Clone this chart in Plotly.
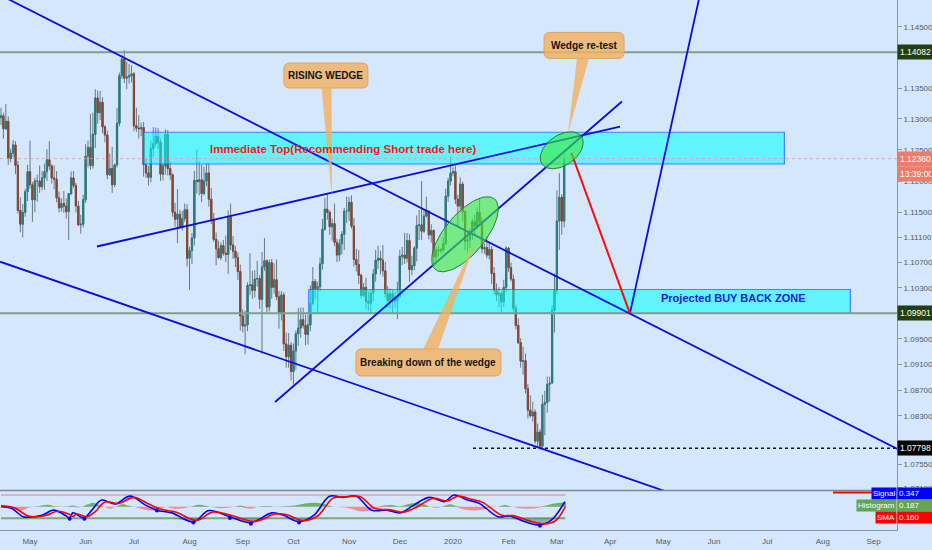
import numpy as np
import pandas as pd
import plotly.graph_objects as go

# ---------------- data (EURUSD daily) ----------------
START_DATE = "2019-04-15"
AXIS_END_DATE = "2020-09-30"

opens = [
    1.1302, 1.1305, 1.1284, 1.1296, 1.1236, 1.1245, 1.1258, 1.1225, 1.1153, 1.1131,
    1.1150, 1.1183, 1.1215, 1.1194, 1.1170, 1.1200, 1.1200, 1.1191, 1.1205, 1.1215,
    1.1234, 1.1224, 1.1205, 1.1203, 1.1173, 1.1157, 1.1164, 1.1160, 1.1151, 1.1180,
    1.1205, 1.1193, 1.1160, 1.1130, 1.1131, 1.1170, 1.1240, 1.1254, 1.1225, 1.1275,
    1.1334, 1.1310, 1.1327, 1.1287, 1.1274, 1.1210, 1.1220, 1.1194, 1.1226, 1.1293,
    1.1370, 1.1397, 1.1366, 1.1368, 1.1370, 1.1373, 1.1289, 1.1285, 1.1284, 1.1286,
    1.1226, 1.1213, 1.1206, 1.1252, 1.1260, 1.1272, 1.1262, 1.1211, 1.1224, 1.1275,
    1.1220, 1.1210, 1.1150, 1.1139, 1.1147, 1.1126, 1.1140, 1.1154, 1.1077, 1.1089,
    1.1109, 1.1201, 1.1199, 1.1202, 1.1180, 1.1200, 1.1213, 1.1171, 1.1139, 1.1107,
    1.1092, 1.1078, 1.1097, 1.1085, 1.1083, 1.1143, 1.1098, 1.1088, 1.1078, 1.1056,
    1.0986, 1.0970, 1.0972, 1.1034, 1.1035, 1.1026, 1.1044, 1.1045, 1.1012, 1.1063,
    1.1073, 1.1000, 1.1070, 1.1031, 1.1043, 1.1016, 1.0990, 1.1019, 1.0942, 1.0922,
    1.0940, 1.0899, 1.0931, 1.0958, 1.0967, 1.0980, 1.0971, 1.0957, 1.0972, 1.1006,
    1.1040, 1.1029, 1.1032, 1.1068, 1.1123, 1.1155, 1.1150, 1.1127, 1.1132, 1.1102,
    1.1082, 1.1100, 1.1115, 1.1152, 1.1152, 1.1166, 1.1128, 1.1075, 1.1067, 1.1050,
    1.1018, 1.1031, 1.1009, 1.1006, 1.1022, 1.1052, 1.1074, 1.1077, 1.1074, 1.1057,
    1.1021, 1.1010, 1.1021, 1.1012, 1.1010, 1.1017, 1.1080, 1.1082, 1.1077, 1.1105,
    1.1059, 1.1065, 1.1093, 1.1129, 1.1130, 1.1120, 1.1144, 1.1152, 1.1114, 1.1121,
    1.1079, 1.1090, 1.1089, 1.1090, 1.1100, 1.1176, 1.1200, 1.1213, 1.1215, 1.1171,
    1.1160, 1.1195, 1.1151, 1.1104, 1.1106, 1.1120, 1.1135, 1.1128, 1.1150, 1.1135,
    1.1092, 1.1094, 1.1082, 1.1091, 1.1053, 1.1026, 1.1019, 1.1021, 1.1008, 1.1031,
    1.1093, 1.1062, 1.1044, 1.0998, 1.0971, 1.0944, 1.0915, 1.0916, 1.0872, 1.0839,
    1.0830, 1.0836, 1.0791, 1.0805, 1.0783, 1.0848, 1.0851, 1.0879, 1.0881, 1.0995,
    1.1026, 1.1136, 1.1174, 1.1136,
]
highs = [
    1.1318, 1.1310, 1.1324, 1.1304, 1.1252, 1.1266, 1.1264, 1.1232, 1.1174, 1.1163,
    1.1187, 1.1226, 1.1265, 1.1198, 1.1205, 1.1210, 1.1225, 1.1216, 1.1228, 1.1251,
    1.1264, 1.1227, 1.1225, 1.1216, 1.1183, 1.1172, 1.1184, 1.1172, 1.1180, 1.1215,
    1.1216, 1.1197, 1.1168, 1.1146, 1.1178, 1.1259, 1.1265, 1.1308, 1.1310, 1.1348,
    1.1346, 1.1345, 1.1335, 1.1290, 1.1281, 1.1244, 1.1255, 1.1228, 1.1318, 1.1375,
    1.1404, 1.1412, 1.1393, 1.1389, 1.1387, 1.1376, 1.1318, 1.1306, 1.1294, 1.1295,
    1.1237, 1.1224, 1.1265, 1.1287, 1.1286, 1.1285, 1.1268, 1.1229, 1.1283, 1.1282,
    1.1232, 1.1212, 1.1165, 1.1187, 1.1154, 1.1152, 1.1164, 1.1163, 1.1095, 1.1117,
    1.1216, 1.1250, 1.1232, 1.1226, 1.1223, 1.1229, 1.1228, 1.1189, 1.1149, 1.1118,
    1.1105, 1.1102, 1.1106, 1.1113, 1.1153, 1.1164, 1.1112, 1.1096, 1.1086, 1.1067,
    1.0996, 1.0994, 1.1039, 1.1085, 1.1057, 1.1058, 1.1073, 1.1050, 1.1087, 1.1109,
    1.1075, 1.1075, 1.1076, 1.1069, 1.1075, 1.1025, 1.1025, 1.1023, 1.0960, 1.0959,
    1.0945, 1.0943, 1.0963, 1.0998, 1.0999, 1.0999, 1.0988, 1.0988, 1.1034, 1.1063,
    1.1044, 1.1040, 1.1078, 1.1139, 1.1173, 1.1179, 1.1153, 1.1140, 1.1164, 1.1108,
    1.1107, 1.1120, 1.1157, 1.1175, 1.1175, 1.1177, 1.1141, 1.1092, 1.1090, 1.1053,
    1.1038, 1.1046, 1.1025, 1.1027, 1.1060, 1.1090, 1.1097, 1.1089, 1.1098, 1.1071,
    1.1033, 1.1029, 1.1027, 1.1025, 1.1040, 1.1090, 1.1095, 1.1117, 1.1117, 1.1115,
    1.1081, 1.1096, 1.1145, 1.1154, 1.1200, 1.1155, 1.1175, 1.1153, 1.1131, 1.1123,
    1.1095, 1.1097, 1.1093, 1.1110, 1.1188, 1.1205, 1.1239, 1.1222, 1.1225, 1.1178,
    1.1206, 1.1199, 1.1153, 1.1118, 1.1124, 1.1140, 1.1146, 1.1158, 1.1173, 1.1142,
    1.1100, 1.1112, 1.1102, 1.1096, 1.1063, 1.1037, 1.1031, 1.1024, 1.1043, 1.1096,
    1.1095, 1.1070, 1.1051, 1.1003, 1.0982, 1.0951, 1.0938, 1.0927, 1.0879, 1.0862,
    1.0852, 1.0840, 1.0818, 1.0810, 1.0863, 1.0869, 1.0891, 1.0891, 1.1003, 1.1053,
    1.1185, 1.1213, 1.1179, 1.1245,
]
lows = [
    1.1290, 1.1268, 1.1282, 1.1226, 1.1230, 1.1238, 1.1211, 1.1148, 1.1118, 1.1110,
    1.1143, 1.1168, 1.1188, 1.1135, 1.1150, 1.1167, 1.1181, 1.1185, 1.1186, 1.1200,
    1.1218, 1.1196, 1.1187, 1.1166, 1.1150, 1.1151, 1.1149, 1.1140, 1.1106, 1.1177,
    1.1189, 1.1150, 1.1128, 1.1116, 1.1126, 1.1165, 1.1222, 1.1218, 1.1220, 1.1253,
    1.1292, 1.1298, 1.1277, 1.1262, 1.1203, 1.1208, 1.1181, 1.1190, 1.1222, 1.1288,
    1.1365, 1.1358, 1.1348, 1.1357, 1.1359, 1.1280, 1.1279, 1.1268, 1.1272, 1.1207,
    1.1205, 1.1193, 1.1198, 1.1238, 1.1255, 1.1252, 1.1200, 1.1201, 1.1210, 1.1209,
    1.1202, 1.1143, 1.1127, 1.1101, 1.1124, 1.1121, 1.1135, 1.1064, 1.1027, 1.1068,
    1.1097, 1.1180, 1.1177, 1.1166, 1.1177, 1.1192, 1.1159, 1.1131, 1.1103, 1.1066,
    1.1076, 1.1074, 1.1081, 1.1071, 1.1052, 1.1090, 1.1076, 1.1063, 1.1043, 1.0963,
    1.0960, 1.0926, 1.0962, 1.1019, 1.1013, 1.1015, 1.1032, 1.0997, 1.0927, 1.1057,
    1.0990, 1.0993, 1.1013, 1.1021, 1.1011, 1.0966, 1.0979, 1.0931, 1.0905, 1.0905,
    1.0885, 1.0879, 1.0902, 1.0939, 1.0952, 1.0966, 1.0940, 1.0941, 1.0962, 1.1003,
    1.1012, 1.0991, 1.1024, 1.1059, 1.1121, 1.1138, 1.1114, 1.1105, 1.1096, 1.1071,
    1.1072, 1.1083, 1.1090, 1.1133, 1.1136, 1.1124, 1.1064, 1.1056, 1.1036, 1.1013,
    1.1016, 1.0996, 1.0994, 1.0989, 1.1009, 1.1040, 1.1060, 1.1051, 1.1048, 1.1015,
    1.0999, 1.0998, 1.0992, 1.0999, 1.0981, 1.1014, 1.1066, 1.1068, 1.1070, 1.1040,
    1.1050, 1.1058, 1.1072, 1.1106, 1.1106, 1.1117, 1.1142, 1.1107, 1.1102, 1.1066,
    1.1067, 1.1080, 1.1084, 1.1087, 1.1098, 1.1167, 1.1193, 1.1208, 1.1163, 1.1128,
    1.1151, 1.1136, 1.1090, 1.1086, 1.1093, 1.1106, 1.1114, 1.1124, 1.1131, 1.1085,
    1.1084, 1.1077, 1.1075, 1.1036, 1.1019, 1.1009, 1.0999, 1.0992, 1.1000, 1.1024,
    1.1055, 1.1040, 1.0993, 1.0965, 1.0942, 1.0905, 1.0894, 1.0865, 1.0826, 1.0828,
    1.0821, 1.0787, 1.0781, 1.0778, 1.0778, 1.0800, 1.0835, 1.0852, 1.0880, 1.0960,
    1.1020, 1.1090, 1.1114, 1.1126,
]
closes = [
    1.1305, 1.1284, 1.1296, 1.1236, 1.1245, 1.1258, 1.1225, 1.1153, 1.1131, 1.1150,
    1.1183, 1.1215, 1.1194, 1.1170, 1.1200, 1.1200, 1.1191, 1.1205, 1.1215, 1.1234,
    1.1224, 1.1205, 1.1203, 1.1173, 1.1157, 1.1164, 1.1160, 1.1151, 1.1180, 1.1205,
    1.1193, 1.1160, 1.1130, 1.1131, 1.1170, 1.1240, 1.1254, 1.1225, 1.1275, 1.1334,
    1.1310, 1.1327, 1.1287, 1.1274, 1.1210, 1.1220, 1.1194, 1.1226, 1.1293, 1.1370,
    1.1397, 1.1366, 1.1368, 1.1370, 1.1373, 1.1289, 1.1285, 1.1284, 1.1286, 1.1226,
    1.1213, 1.1206, 1.1252, 1.1260, 1.1272, 1.1262, 1.1211, 1.1224, 1.1275, 1.1220,
    1.1210, 1.1150, 1.1139, 1.1147, 1.1126, 1.1140, 1.1154, 1.1077, 1.1089, 1.1109,
    1.1201, 1.1199, 1.1202, 1.1180, 1.1200, 1.1213, 1.1171, 1.1139, 1.1107, 1.1092,
    1.1078, 1.1097, 1.1085, 1.1083, 1.1143, 1.1098, 1.1088, 1.1078, 1.1056, 1.0986,
    1.0970, 1.0972, 1.1034, 1.1035, 1.1026, 1.1044, 1.1045, 1.1012, 1.1063, 1.1073,
    1.1000, 1.1070, 1.1031, 1.1043, 1.1016, 1.0990, 1.1019, 1.0942, 1.0922, 1.0940,
    1.0899, 1.0931, 1.0958, 1.0967, 1.0980, 1.0971, 1.0957, 1.0972, 1.1006, 1.1040,
    1.1029, 1.1032, 1.1068, 1.1123, 1.1155, 1.1150, 1.1127, 1.1132, 1.1102, 1.1082,
    1.1100, 1.1115, 1.1152, 1.1152, 1.1166, 1.1128, 1.1075, 1.1067, 1.1050, 1.1018,
    1.1031, 1.1009, 1.1006, 1.1022, 1.1052, 1.1074, 1.1077, 1.1074, 1.1057, 1.1021,
    1.1010, 1.1021, 1.1012, 1.1010, 1.1017, 1.1080, 1.1082, 1.1077, 1.1105, 1.1059,
    1.1065, 1.1093, 1.1129, 1.1130, 1.1120, 1.1144, 1.1152, 1.1114, 1.1121, 1.1079,
    1.1090, 1.1089, 1.1090, 1.1100, 1.1176, 1.1200, 1.1213, 1.1215, 1.1171, 1.1160,
    1.1195, 1.1151, 1.1104, 1.1106, 1.1120, 1.1135, 1.1128, 1.1150, 1.1135, 1.1092,
    1.1094, 1.1082, 1.1091, 1.1053, 1.1026, 1.1019, 1.1021, 1.1008, 1.1031, 1.1093,
    1.1062, 1.1044, 1.0998, 1.0971, 1.0944, 1.0915, 1.0916, 1.0872, 1.0839, 1.0830,
    1.0836, 1.0791, 1.0805, 1.0783, 1.0848, 1.0851, 1.0879, 1.0881, 1.0995, 1.1026,
    1.1136, 1.1174, 1.1136, 1.1236,
]

# right price axis (ticks hidden behind the level labels are left out)
price_ticks = [1.145, 1.135, 1.130, 1.125, 1.120, 1.115, 1.111, 1.107,
               1.103, 1.095, 1.091, 1.087, 1.083, 1.0755, 1.0719]

# key levels
resistance_level = 1.14082
support_level = 1.09901
last_price = 1.12360
swing_low = 1.07798
countdown = "13:39:00"

# oscillator pane (bar index, value)
fast_idx = [0, 4.3, 9.1, 11.5, 17, 21.8, 26.5, 28.4, 29.7, 34.3, 37.6, 41.6, 47.2, 53.4,
            59.8, 64.5, 70.7, 79.6, 86, 94.7, 103.4, 112.1, 116.9, 123.3, 129.5, 135.9,
            141.5, 147, 153.3, 159.7, 165.1, 170.8, 177.1, 183.5, 187.4, 193, 197.8,
            205.6, 210.4, 216.8, 223, 227.8, 233.3]
fast_val = [50, 46, 24, 23, 28, 41, 28, 21, 34, 21, 41, 67, 57, 77, 54, 41, 34, 11, 40,
            24, 9, 34, 28, 11, 28, 77, 74, 77, 41, 41, 34, 54, 74, 63, 80, 67, 59, 24,
            26, 11, 3, 16, 63]
slow_idx = [0, 5.5, 10.5, 13, 18.5, 23.3, 28, 30, 31.2, 35.8, 39.1, 43.1, 48.7, 54.9,
            61.3, 66, 72.2, 81.1, 87.5, 96.2, 104.9, 113.6, 118.4, 124.8, 131, 137.4,
            143, 148.5, 154.8, 161.2, 166.6, 172.3, 178.6, 185, 188.9, 194.5, 199.3,
            207.1, 211.9, 218.3, 224.5, 229.3, 233.5]
slow_val = [52, 47, 28, 24, 27, 38, 31, 25, 31, 24, 38, 62, 58, 74, 56, 44, 36, 15, 36,
            26, 12, 31, 29, 14, 26, 72, 75, 76, 45, 42, 36, 50, 71, 65, 77, 69, 61, 28,
            27, 14, 6, 13, 50]
dot_idx = [28.4, 34.5, 64.5, 79.6, 94.7, 103.4, 123.3, 223]
dot_val = [19, 19, 40, 9, 21, 6, 9, 1]
hist_idx = [0, 1.7, 2.9, 5.8, 8.7, 11.2, 13.2, 16.1, 19.4, 22.3, 25.2, 27.7, 29.8, 31.9,
            33.5, 36, 38, 40.1, 42.6, 45.1, 47.6, 50.1, 52.5, 55, 58.3, 62.5, 65.8, 68.3,
            70.7, 74.9, 78.2, 81.5, 84, 86.5, 90.6, 93.9, 96.4, 98.9, 101.4, 103.8, 106.3,
            109.6, 113.8, 117.5, 121.6, 125.8, 129.9, 134, 137.4, 142.3, 145.2, 148.5,
            152.7, 156, 158.5, 161.8, 165.1, 168.4, 171.7, 175, 177.5, 180, 182.5, 185.8,
            188.3, 190.7, 194.9, 199, 202.3, 205.6, 208.5, 211.4, 214.7, 218.9, 223,
            225.5, 228.8, 232.1, 233.8]
hist_val = [4, 2, 0, -8, -10, -3, 0, 2, 5, 1, -1, 1, 3, -2, 0, 6, 10, 6, 0, -5, 0, 7, 3,
            0, -6, -10, -6, 0, -4, -5, 0, 5, 3, 0, -4, -3, 0, 3, -4, -5, 0, 2, -1, 1, 3,
            8, 10, 6, 0, -2, -6, -12, -10, -2, 3, 4, 1, 6, 10, 6, 0, -3, 0, 6, 2, -6,
            -10, -8, -2, 0, 4, 0, -4, -5, -2, 3, 8, 11, 10]
osc_labels = ["Signal", "Histogram", "SMA"]
osc_label_values = ["0.347", "0.187", "0.160"]

# ---------------- layout geometry ----------------
PLOT_W, PLOT_H, MAIN_H = 897, 530, 490
XR0, XR1 = -0.414, 370.7
PTOP, PBOT = 1.14938, 1.07158
PX_PER_BAR = PLOT_W / (XR1 - XR0)
PX_PER_LN = MAIN_H / (np.log(PTOP) - np.log(PBOT))

BG = "#d4e7fc"
AXIS_C = "#8c97a3"
FONT = "Liberation Sans, Arial, sans-serif"
BLUE = "#0c0ce6"

n = len(closes)
bar_idx = np.arange(n)

axis_days = pd.bdate_range(START_DATE, AXIS_END_DATE)
month_ticks, month_labels = [], []
prev = axis_days[0].month
for i, d in enumerate(axis_days):
    if d.month != prev:
        month_ticks.append(i)
        month_labels.append("2020" if d.month == 1 else d.strftime("%b"))
    prev = d.month


def shift(idx, price, dx, dy):
    """offset a data anchor by screen pixels (dy positive = down)"""
    dx = np.asarray(dx, float)
    dy = np.asarray(dy, float)
    return idx + dx / PX_PER_BAR, price * np.exp(-dy / PX_PER_LN)


def rounded_rect(cx, cy, w, h, r=4, k=6):
    xs, ys = [], []
    corners = [(cx + w / 2 - r, cy - h / 2 + r, -90), (cx + w / 2 - r, cy + h / 2 - r, 0),
               (cx - w / 2 + r, cy + h / 2 - r, 90), (cx - w / 2 + r, cy - h / 2 + r, 180)]
    for ccx, ccy, a0 in corners:
        for a in np.linspace(a0, a0 + 90, k):
            xs.append(ccx + r * np.cos(np.radians(a)))
            ys.append(ccy + r * np.sin(np.radians(a)))
    xs.append(xs[0]); ys.append(ys[0])
    return np.array(xs), np.array(ys)


fig = go.Figure()

# candles: grey wicks + coloured bodies
fig.add_trace(go.Candlestick(
    x=bar_idx, open=opens, high=highs, low=lows, close=closes,
    increasing=dict(line=dict(color="rgb(104,120,132)", width=1), fillcolor="#4f8f92"),
    decreasing=dict(line=dict(color="rgb(104,120,132)", width=1), fillcolor="#86604f"),
    whiskerwidth=0, hoverinfo="skip", xaxis="x", yaxis="y"))
body_top = np.maximum(opens, closes)
body_bot = np.minimum(opens, closes)
fig.add_trace(go.Candlestick(
    x=bar_idx, open=opens, high=body_top, low=body_bot, close=closes,
    increasing=dict(line=dict(color="#2a7b7c", width=1), fillcolor="#2a7b7c"),
    decreasing=dict(line=dict(color="#8a4631", width=1), fillcolor="#8a4631"),
    whiskerwidth=0, hoverinfo="skip", xaxis="x", yaxis="y"))

# zones
def zone(x0, x1, p0, p1):
    fig.add_trace(go.Scatter(x=[x0, x1, x1, x0, x0], y=[p0, p0, p1, p1, p0], mode="lines",
                             fill="toself", fillcolor="rgba(0,255,255,0.55)",
                             line=dict(color="rgba(50,90,255,0.75)", width=1.2),
                             hoverinfo="skip", xaxis="x", yaxis="y"))

zone(58.9, 324.1, 1.12273, 1.12784)
zone(127.3, 351.4, support_level, 1.10276)

# horizontal levels
def hline(p, x0, x1, color, width, dash="solid"):
    fig.add_trace(go.Scatter(x=[x0, x1], y=[p, p], mode="lines",
                             line=dict(color=color, width=width, dash=dash),
                             hoverinfo="skip", xaxis="x", yaxis="y"))

hline(resistance_level, XR0, XR1, "rgb(128,158,140)", 2)
hline(support_level, XR0, XR1, "rgb(128,158,140)", 2)
hline(last_price, XR0, XR1, "rgba(232,150,150,0.75)", 1, "dot")
hline(swing_low, 195.3, XR1, "#111111", 1.5, "dot")

# trend lines (bar index, price)
def seg(x0, p0, x1, p1, color=BLUE, width=1.8):
    fig.add_trace(go.Scatter(x=[x0, x1], y=[p0, p1], mode="lines",
                             line=dict(color=color, width=width),
                             hoverinfo="skip", xaxis="x", yaxis="y"))

seg(-1, 1.15033, 371, 1.07787)
seg(-0.4, 1.10715, 280, 1.07073)
seg(39.7, 1.10956, 256.1, 1.12874)
seg(113.4, 1.08515, 256.9, 1.13281)
seg(260.2, 1.0990, 290, 1.15177)
seg(236.0, 1.1245, 260.2, 1.0990, color="#ff0a0a", width=2)

# ellipses
def ellipse(cidx, cprice, a, b, ang):
    t = np.linspace(0, 2 * np.pi, 80)
    th = np.radians(ang)
    dx = a * np.cos(t) * np.cos(th) - b * np.sin(t) * np.sin(th)
    dy = -(a * np.cos(t) * np.sin(th) + b * np.sin(t) * np.cos(th))
    ex, ey = shift(cidx, cprice, dx, dy)
    fig.add_trace(go.Scatter(x=ex, y=ey, mode="lines", fill="toself",
                             fillcolor="rgba(60,235,60,0.62)",
                             line=dict(color="#2c7a2c", width=1),
                             hoverinfo="skip", xaxis="x", yaxis="y"))

ellipse(191.97, 1.11151, 46, 20, 50)
ellipse(231.98, 1.12494, 24, 15, 35)

# callouts (tip anchored in data, box offset in pixels)
CALLOUT_FILL = "rgba(243,176,92,0.80)"

def callout(tidx, tprice, text, bx, by, bw, bh, base):
    rx, ry = rounded_rect(bx, by, bw, bh, r=5)
    px, py = shift(tidx, tprice, rx, ry)
    fig.add_trace(go.Scatter(x=px, y=py, mode="lines", fill="toself", fillcolor=CALLOUT_FILL,
                             line=dict(color="rgba(225,160,80,0.9)", width=1),
                             hoverinfo="skip", xaxis="x", yaxis="y"))
    (bx0, by0), (bx1, by1) = base
    tx, ty = shift(tidx, tprice, [bx0, bx1, 0, bx0], [by0, by1, 0, by0])
    fig.add_trace(go.Scatter(x=tx, y=ty, mode="lines", fill="toself", fillcolor=CALLOUT_FILL,
                             line=dict(width=0), hoverinfo="skip", xaxis="x", yaxis="y"))
    fig.add_annotation(x=tidx, y=np.log10(tprice), xref="x", yref="y", text=f"<b>{text}</b>",
                       showarrow=False, xshift=bx, yshift=-by,
                       font=dict(family=FONT, size=10, color="#161616"))

callout(136.9, 1.11744, "RISING WEDGE", -6, -121.5, 84, 25, ((-10.3, -109.5), (-0.3, -109.5)))
callout(234.6, 1.1277, "Wedge re-test", 16, -87.7, 80, 26, ((9, -75), (21, -75)))
callout(196.5, 1.1106, "Breaking down of the wedge", -47.5, 122.5, 145, 27,
        ((-53, 109.5), (-38, 109.5)))

# zone texts
fig.add_annotation(x=141.5, y=np.log10(1.12514), xref="x", yref="y",
                   text="<b>Immediate Top(Recommending Short trade here)</b>", showarrow=False,
                   font=dict(family=FONT, size=11.5, color="#ff1414"))
fig.add_annotation(x=303.1, y=np.log10(1.10142), xref="x", yref="y",
                   text="<b>Projected BUY BACK ZONE</b>", showarrow=False,
                   font=dict(family=FONT, size=11, color="#1c1cdc"))

# ---------------- oscillator pane ----------------
osc_end = n - 0.5
fig.add_trace(go.Scatter(x=[0, osc_end], y=[80, 80], mode="lines",
                         line=dict(color="rgba(236,112,112,0.9)", width=1),
                         hoverinfo="skip", xaxis="x", yaxis="y2"))
fig.add_trace(go.Scatter(x=[0, osc_end], y=[20, 20], mode="lines",
                         line=dict(color="rgba(118,165,120,0.95)", width=2),
                         hoverinfo="skip", xaxis="x", yaxis="y2"))
# oversold fill
fast_arr = np.array(fast_val, float)
fig.add_trace(go.Scatter(x=fast_idx, y=np.full(len(fast_idx), 20.0), mode="lines",
                         line=dict(width=0), hoverinfo="skip", xaxis="x", yaxis="y2"))
fig.add_trace(go.Scatter(x=fast_idx, y=np.minimum(fast_arr, 20), mode="lines",
                         line=dict(width=0), fill="tonexty", fillcolor="rgba(40,120,60,0.45)",
                         hoverinfo="skip", xaxis="x", yaxis="y2"))
# histogram
h = np.array(hist_val, float)
for part, col in ((np.clip(h, 0, None), "rgba(90,168,80,0.85)"),
                  (np.clip(h, None, 0), "rgba(240,112,112,0.75)")):
    fig.add_trace(go.Scatter(x=hist_idx, y=np.full(len(h), 50.0), mode="lines",
                             line=dict(width=0, shape="spline"), hoverinfo="skip",
                             xaxis="x", yaxis="y2"))
    fig.add_trace(go.Scatter(x=hist_idx, y=50 + part, mode="lines",
                             line=dict(width=0, shape="spline"), fill="tonexty",
                             fillcolor=col, hoverinfo="skip", xaxis="x", yaxis="y2"))
fig.add_trace(go.Scatter(x=fast_idx, y=fast_val, mode="lines",
                         line=dict(color="#0000ff", width=1.6, shape="spline"),
                         hoverinfo="skip", xaxis="x", yaxis="y2"))
fig.add_trace(go.Scatter(x=slow_idx, y=slow_val, mode="lines",
                         line=dict(color="#ff0000", width=1.6, shape="spline"),
                         hoverinfo="skip", xaxis="x", yaxis="y2"))
fig.add_trace(go.Scatter(x=dot_idx, y=dot_val, mode="markers",
                         marker=dict(color="#0000ff", size=4, symbol="circle"),
                         hoverinfo="skip", xaxis="x", yaxis="y2"))

# ---------------- right-axis labels ----------------
def axis_label(p, text, bg, yshift=0):
    fig.add_annotation(x=1, xref="paper", xanchor="left", y=np.log10(p), yref="y",
                       yshift=yshift, text=text, showarrow=False, bgcolor=bg, width=31,
                       borderpad=2, align="left",
                       font=dict(family=FONT, size=8.5, color="white"))

axis_label(resistance_level, f"{resistance_level:.5f}", "#22400f")
axis_label(last_price, f"{last_price:.5f}", "#ef7b6b")
axis_label(last_price, countdown, "#ef7b6b", yshift=-15)
axis_label(support_level, f"{support_level:.5f}", "#22400f")
axis_label(swing_low, f"{swing_low:.5f}", "#000000")

osc_colors = ["#0000ff", "#63a455", "#ff0000"]
for k, (lab, val, col) in enumerate(zip(osc_labels, osc_label_values, osc_colors)):
    ypx = 500 + 12 * k
    yp = (PLOT_H - ypx) / PLOT_H
    fig.add_annotation(x=1, xref="paper", xanchor="right", y=yp, yref="paper", text=lab,
                       showarrow=False, bgcolor=col, borderpad=1,
                       font=dict(family=FONT, size=8, color="white"))
    fig.add_annotation(x=1, xref="paper", xanchor="left", y=yp, yref="paper", text=val,
                       showarrow=False, bgcolor=col, borderpad=1, width=33, align="left",
                       font=dict(family=FONT, size=8, color="white"))

# pane separator and small red marker
fig.add_shape(type="line", xref="paper", yref="paper", x0=0, x1=1,
              y0=(PLOT_H - 490.5) / PLOT_H, y1=(PLOT_H - 490.5) / PLOT_H,
              line=dict(color="#7d8894", width=1.5))
fig.add_shape(type="line", xref="paper", yref="paper", x0=833 / PLOT_W, x1=880 / PLOT_W,
              y0=(PLOT_H - 492.5) / PLOT_H, y1=(PLOT_H - 492.5) / PLOT_H,
              line=dict(color="#ff0000", width=2))

fig.update_layout(
    template="none",
    width=932, height=550,
    margin=dict(l=0, r=932 - PLOT_W, t=0, b=550 - PLOT_H),
    paper_bgcolor=BG, plot_bgcolor=BG, showlegend=False,
    font=dict(family=FONT),
    xaxis=dict(range=[XR0, XR1], anchor="y2", tickvals=month_ticks, ticktext=month_labels,
               showgrid=False, zeroline=False, showline=True, linecolor=AXIS_C, linewidth=1,
               ticks="outside", ticklen=3, tickcolor="rgba(0,0,0,0)",
               tickfont=dict(family=FONT, size=8, color="#555b62"),
               rangeslider=dict(visible=False), automargin=False, fixedrange=True),
    yaxis=dict(domain=[(PLOT_H - MAIN_H) / PLOT_H, 1], type="log",
               range=[np.log10(PBOT), np.log10(PTOP)], side="right", anchor="x",
               tickvals=price_ticks, ticktext=[f"{v:.5f}" for v in price_ticks],
               showgrid=False, zeroline=False, showline=True, linecolor=AXIS_C,
               ticks="outside", ticklen=4, tickcolor=AXIS_C,
               tickfont=dict(family=FONT, size=8, color="#555b62"), automargin=False),
    yaxis2=dict(domain=[0, (PLOT_H - 491) / PLOT_H], range=[-10.1, 90.3], side="right",
                anchor="x", showticklabels=False, showgrid=False, zeroline=False,
                showline=True, linecolor=AXIS_C, ticks="", automargin=False),
)

fig.write_html(
    "out.html",
    config={"displayModeBar": False},
    post_script="document.body.style.margin='0';document.body.style.overflow='hidden';"
                "document.body.style.background='" + BG + "';",
)
